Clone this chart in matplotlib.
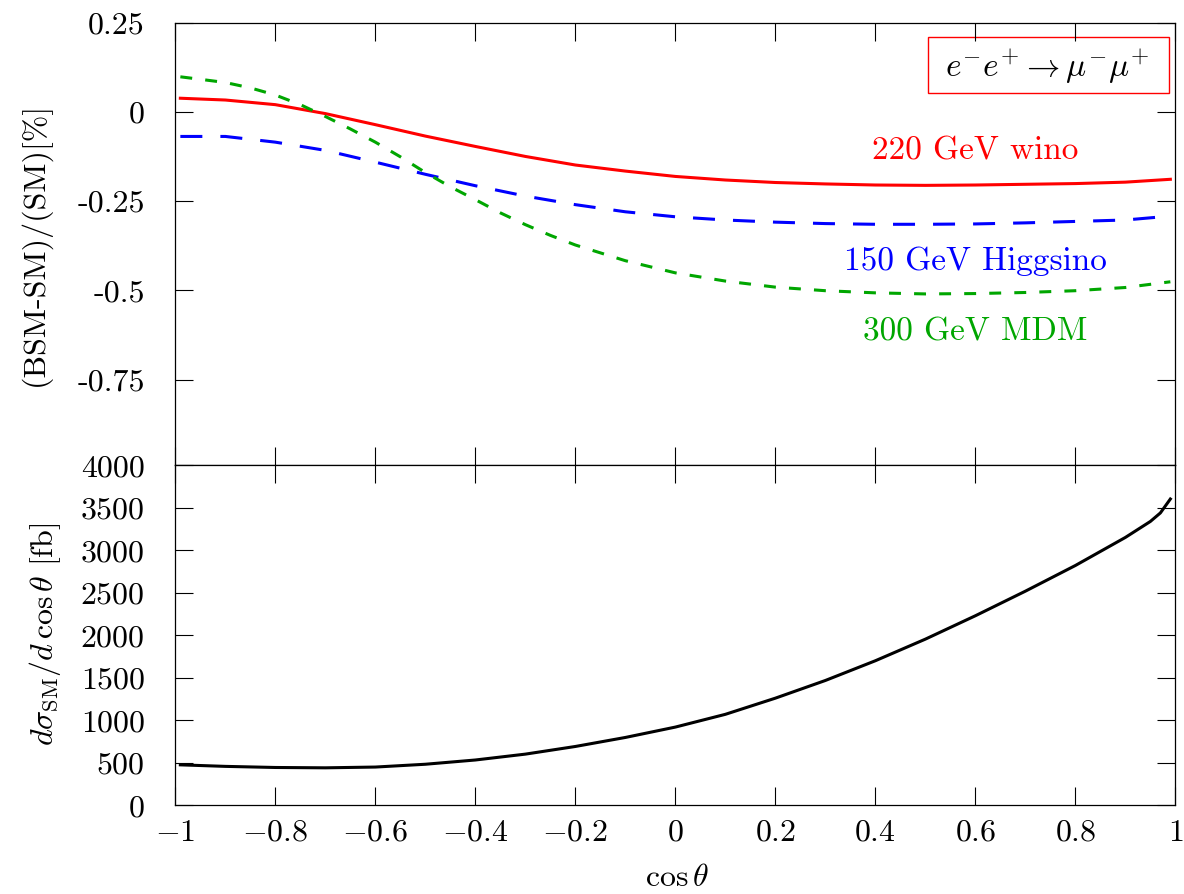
import matplotlib
matplotlib.use("Agg")
import matplotlib.pyplot as plt
from matplotlib.patches import Rectangle

plt.rcParams["font.family"] = "serif"
plt.rcParams["font.serif"] = ["cmr10"]
plt.rcParams["mathtext.fontset"] = "cm"
plt.rcParams["axes.unicode_minus"] = False

# cos(theta) grid shared by the wino / higgsino curves
cos_theta = [-0.99, -0.9, -0.8, -0.7, -0.6, -0.5, -0.4, -0.3, -0.2, -0.1, 0.0,
             0.1, 0.2, 0.3, 0.4, 0.5, 0.6, 0.7, 0.8, 0.9, 0.99]

# relative deviation (BSM-SM)/SM in percent
wino_220 = [0.038, 0.033, 0.020, -0.005, -0.036, -0.068, -0.097, -0.125, -0.149, -0.166, -0.181,
            -0.191, -0.198, -0.202, -0.205, -0.206, -0.205, -0.203, -0.201, -0.197, -0.189]
higgsino_150 = [-0.069, -0.069, -0.085, -0.108, -0.141, -0.175, -0.207, -0.236, -0.260, -0.280, -0.294,
                -0.303, -0.309, -0.313, -0.315, -0.315, -0.314, -0.311, -0.307, -0.303, -0.292]

# MDM curve bends quickly on the backward side, so it is read more finely there
cos_mdm = [-0.99, -0.95, -0.9, -0.85, -0.8, -0.75, -0.7, -0.65, -0.6, -0.55, -0.5, -0.45,
           -0.4, -0.35, -0.3, -0.25, -0.2, -0.1, 0.0, 0.1, 0.2, 0.3, 0.4, 0.5, 0.6, 0.7, 0.8, 0.9, 0.99]
mdm_300 = [0.098, 0.091, 0.082, 0.067, 0.047, 0.020, -0.013, -0.048, -0.085, -0.126, -0.170, -0.210,
           -0.246, -0.283, -0.316, -0.346, -0.373, -0.417, -0.451, -0.474, -0.491, -0.501, -0.507,
           -0.510, -0.509, -0.506, -0.501, -0.492, -0.476]

# SM differential cross section [fb]
cos_sm = [-0.99, -0.9, -0.8, -0.7, -0.6, -0.5, -0.4, -0.3, -0.2, -0.1, 0.0,
          0.1, 0.2, 0.3, 0.4, 0.5, 0.6, 0.7, 0.8, 0.9, 0.95, 0.97, 0.99]
dsigma_sm = [478, 460, 447, 443, 452, 485, 535, 604, 694, 800, 922,
             1072, 1262, 1470, 1702, 1956, 2231, 2520, 2822, 3152, 3340, 3440, 3604]

top_ticks = [0.25, 0, -0.25, -0.5, -0.75]
top_ticklabels = ["0.25", "0", "-0.25", "-0.5", "-0.75"]
bottom_ticks = [0, 500, 1000, 1500, 2000, 2500, 3000, 3500, 4000]
x_ticks = [-1, -0.8, -0.6, -0.4, -0.2, 0, 0.2, 0.4, 0.6, 0.8, 1]
x_ticklabels = [r"$-1$", r"$-0.8$", r"$-0.6$", r"$-0.4$", r"$-0.2$", r"$0$",
                r"$0.2$", r"$0.4$", r"$0.6$", r"$0.8$", r"$1$"]

red = "#ff0000"
blue = "#0000ff"
green = "#00a600"

fig = plt.figure(figsize=(11.84, 8.94), dpi=100)
ax1 = fig.add_axes([0.1481, 0.4795, 0.8446, 0.4953])
ax2 = fig.add_axes([0.1481, 0.0990, 0.8446, 0.3805])

ax1.plot(cos_theta, wino_220, color=red, lw=2.2)
ax1.plot(cos_theta, higgsino_150, color=blue, lw=2.2, dashes=(7.2, 5.9))
ax1.plot(cos_mdm, mdm_300, color=green, lw=2.2, dashes=(3.9, 4.3))

ax2.plot(cos_sm, dsigma_sm, color="black", lw=2.2)

for ax in (ax1, ax2):
    ax.set_xlim(-1, 1)
    ax.set_xticks(x_ticks)
    ax.tick_params(direction="in", top=True, right=True, length=13, width=0.8,
                   labelsize=23)
    for s in ax.spines.values():
        s.set_linewidth(0.9)

ax1.set_ylim(-0.99, 0.25)
ax1.set_yticks(top_ticks)
ax1.set_yticklabels(top_ticklabels)
ax1.tick_params(axis="y", pad=22)
ax1.tick_params(axis="x", labelbottom=False)

ax2.set_ylim(0, 4000)
ax2.set_yticks(bottom_ticks)
ax2.set_yticklabels([str(v) for v in bottom_ticks])
ax2.set_xticklabels(x_ticklabels)
ax2.tick_params(axis="y", pad=22)
ax2.tick_params(axis="x", pad=10)

# curve labels
ax1.text(0.800, 0.691, "220 GeV wino", color=red, fontsize=24,
         ha="center", va="baseline", transform=ax1.transAxes)
ax1.text(0.800, 0.441, "150 GeV Higgsino", color=blue, fontsize=24,
         ha="center", va="baseline", transform=ax1.transAxes)
ax1.text(0.800, 0.283, "300 GeV MDM", color=green, fontsize=24,
         ha="center", va="baseline", transform=ax1.transAxes)

# process box
ax1.add_patch(Rectangle((0.7524, 0.840), 0.241, 0.1266, transform=ax1.transAxes,
                        fill=False, edgecolor=red, lw=1.0))
ax1.text(0.8714, 0.878, r"$e^{-}e^{+}\rightarrow\mu^{-}\mu^{+}$", fontsize=24,
         ha="center", va="baseline", transform=ax1.transAxes)

fig.text(0.0296, 0.727, "(BSM-SM)/(SM)[%]", rotation=90, fontsize=23,
         ha="center", va="center")
fig.text(0.038, 0.290, r"$d\sigma_{\rm SM}/d\,\cos\theta$ [fb]", rotation=90, fontsize=23,
         ha="center", va="center")
fig.text(0.5718, 0.018, r"$\cos\theta$", fontsize=23, ha="center", va="center")

fig.savefig("out.png", dpi=100)
